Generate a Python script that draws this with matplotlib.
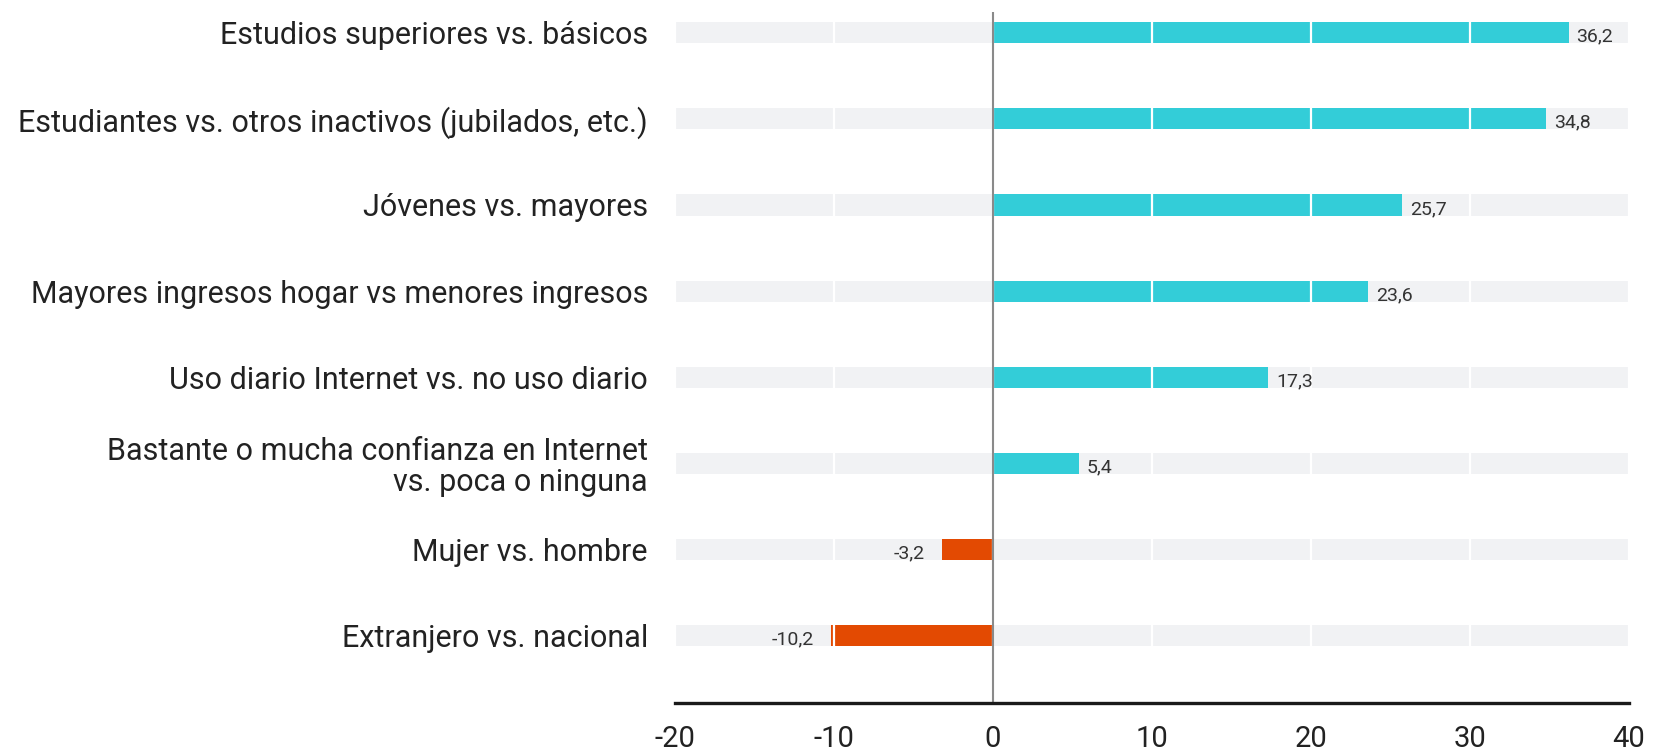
import matplotlib
matplotlib.use("Agg")
import matplotlib.pyplot as plt
from matplotlib import transforms

plt.rcParams['font.family'] = ['Roboto', 'DejaVu Sans']

categories = [
    "Estudios superiores vs. básicos",
    "Estudiantes vs. otros inactivos (jubilados, etc.)",
    "Jóvenes vs. mayores",
    "Mayores ingresos hogar vs menores ingresos",
    "Uso diario Internet vs. no uso diario",
    "Bastante o mucha confianza en Internet\nvs. poca o ninguna",
    "Mujer vs. hombre",
    "Extranjero vs. nacional",
]
values = [36.2, 34.8, 25.7, 23.6, 17.3, 5.4, -3.2, -10.2]
value_labels = ["36,2", "34,8", "25,7", "23,6", "17,3", "5,4", "-3,2", "-10,2"]
xticks = [-20, -10, 0, 10, 20, 30, 40]

POS = "#33CDD8"
NEG = "#E34A02"
BG = "#F1F2F4"

fig = plt.figure(figsize=(16.53, 7.51), dpi=100)
ax = fig.add_axes([675/1653, 48/751, (1629-675)/1653, (751-48-12)/751])

xmin, xmax = -20, 40
ypos = list(range(len(categories)))
h = 0.245

ax.barh(ypos, [xmax - xmin]*len(ypos), left=xmin, height=h, color=BG, zorder=1)
ax.barh(ypos, values, height=h, color=[POS if v >= 0 else NEG for v in values], zorder=2)

for x in xticks:
    ax.axvline(x, color="white", lw=1.6, zorder=3)
ax.axvline(0, color="#8a8a8a", lw=1.5, zorder=4)

for y, v, lab in zip(ypos, values, value_labels):
    if v >= 0:
        off = transforms.offset_copy(ax.transData, fig=fig, x=8, y=-4, units='dots')
        ax.text(v, y, lab, transform=off, ha='left', va='center', fontsize=14, color="#333333", zorder=5)
    else:
        off = transforms.offset_copy(ax.transData, fig=fig, x=-17, y=-4, units='dots')
        ax.text(v, y, lab, transform=off, ha='right', va='center', fontsize=14, color="#333333", zorder=5)

ax.set_xlim(xmin, xmax)
ax.set_ylim(7.78, -0.24)
ax.set_xticks(xticks)
ax.set_xticklabels([str(t) for t in xticks], fontsize=21, color="#222222")
ax.set_yticks(ypos)
ax.set_yticklabels(categories, fontsize=22, color="#222222", linespacing=1.05)
ax.tick_params(axis='both', length=0)
ax.tick_params(axis='x', pad=16)
ax.tick_params(axis='y', pad=19.5)
for s in ['top', 'right', 'left']:
    ax.spines[s].set_visible(False)
ax.spines['bottom'].set_linewidth(2.4)
ax.spines['bottom'].set_color("#1a1a1a")
ax.spines['bottom'].set_zorder(6)

fig.savefig("out.png", dpi=100)
